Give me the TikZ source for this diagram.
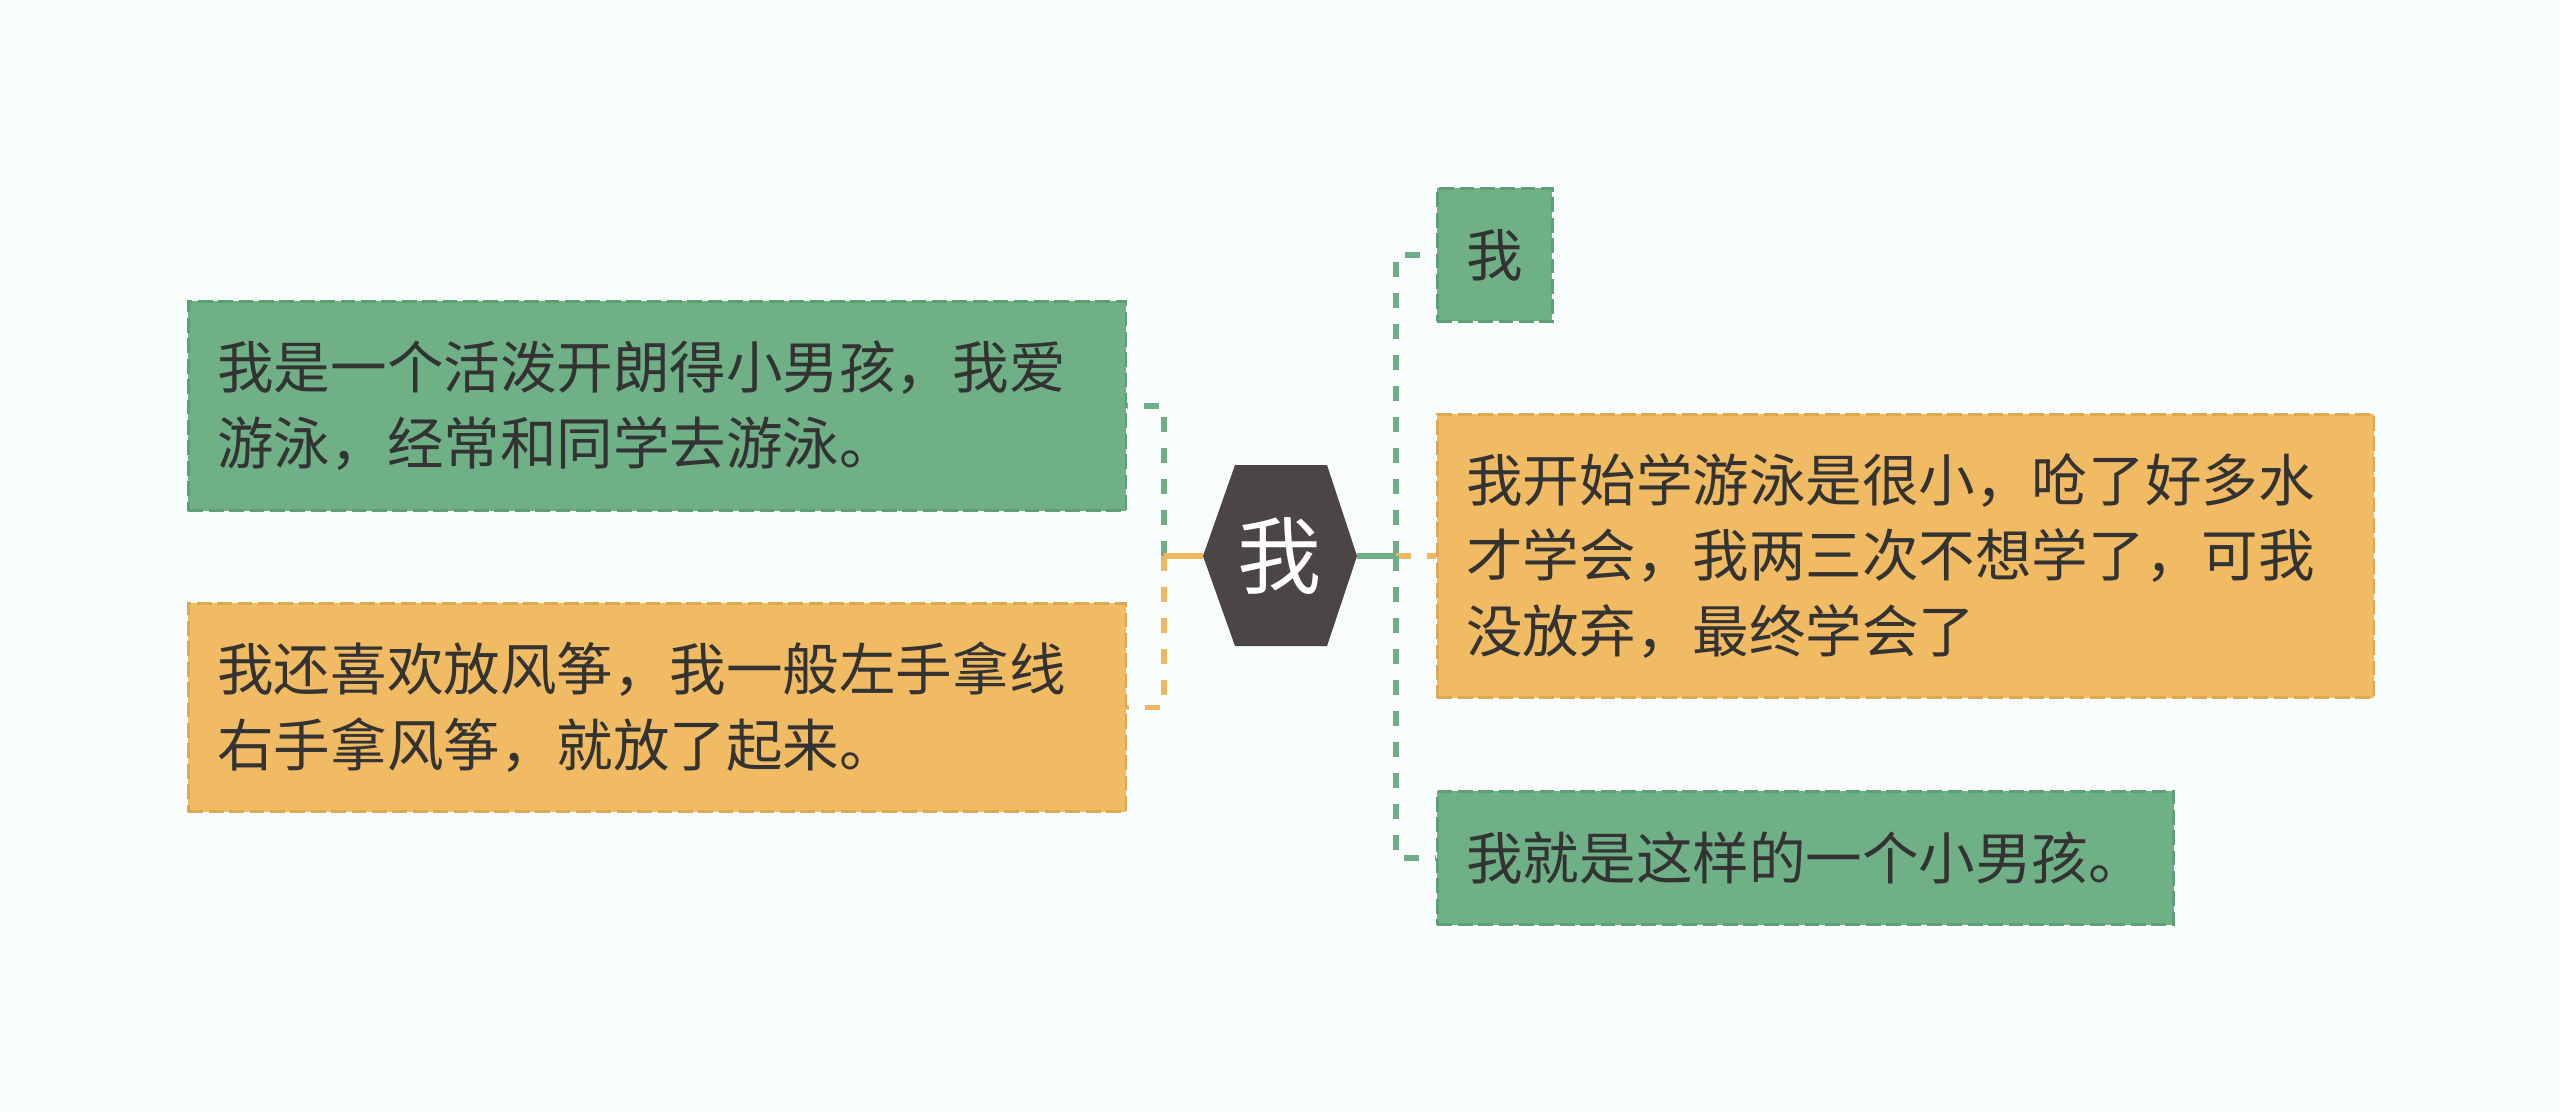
\documentclass[tikz,border=0pt]{standalone}
\usepackage{fontspec}
\newfontfamily\cjk{Noto Sans CJK SC}
\definecolor{bgc}{HTML}{F8FCFC}
\definecolor{gfill}{HTML}{70B087}
\definecolor{ofill}{HTML}{F0BB62}
\definecolor{gborder}{HTML}{5F9F76}
\definecolor{oborder}{HTML}{DDA853}
\definecolor{gline}{HTML}{6DAE84}
\definecolor{oline}{HTML}{EFB860}
\definecolor{hexc}{HTML}{4B4546}
\definecolor{textc}{HTML}{333333}
\begin{document}
\begin{tikzpicture}[x=0.01cm,y=-0.01cm,
  box/.style={draw, line width=0.8pt, dash pattern=on 4.2pt off 1.6pt,
    font=\cjk\fontsize{16.08pt}{21.6pt}\selectfont, text=textc,
    anchor=north west, inner xsep=0.29cm, inner ysep=0pt, align=left},
  gbox/.style={box, fill=gfill, draw=gborder},
  obox/.style={box, fill=ofill, draw=oborder},
  link/.style={line width=1.45pt},
  dlink/.style={link, dash pattern=on 4.27pt off 4.55pt}]
\fill[bgc] (0,0) rectangle (2560,1111);
\useasboundingbox (0,0) rectangle (2560,1111);

% centre hexagon
\coordinate (cW) at (1203,556);
\coordinate (cE) at (1357,556);
\fill[hexc] (cW) -- (1235,465) -- (1327,465) -- (cE) -- (1327,646) -- (1235,646) -- cycle;
\node[font=\cjk\fontsize{23.9pt}{28pt}\selectfont, text=white, inner sep=0pt] (c) at (1280,556) {我};

% boxes
\node[gbox, text width=8.79cm, minimum height=2.09cm] (l1) at (187,300)
  {我是一个活泼开朗得小男孩，我爱\\游泳，经常和同学去游泳。};
\node[obox, text width=8.79cm, minimum height=2.08cm] (l2) at (187,602)
  {我还喜欢放风筝，我一般左手拿线\\右手拿风筝，就放了起来。};
\node[gbox, text width=0.57cm, minimum height=1.33cm] (r1) at (1436,187) {我};
\node[obox, text width=8.78cm, minimum height=2.83cm] (r2) at (1436,413)
  {我开始学游泳是很小，呛了好多水\\才学会，我两三次不想学了，可我\\没放弃，最终学会了};
\node[gbox, text width=6.78cm, minimum height=1.33cm] (r3) at (1436,790)
  {我就是这样的一个小男孩。};

% connectors
\coordinate (lb) at (1164,556);
\coordinate (rb) at (1396,556);
\draw[link, gline] (cW) -- (lb);
\draw[dlink, gline] (lb) |- (l1.east);
\draw[link, oline] (cW) -- (lb);
\draw[dlink, oline] (lb) |- (l2.east);

\draw[link, gline] (cE) -- (rb);
\draw[dlink, gline] (rb) |- (r1.west);
\draw[link, oline] (cE) -- (rb);
\draw[dlink, oline] (rb) -- (rb -| r2.west);
\draw[link, gline] (cE) -- (rb);
\draw[dlink, gline] (rb) |- (r3.west);
\end{tikzpicture}
\end{document}
